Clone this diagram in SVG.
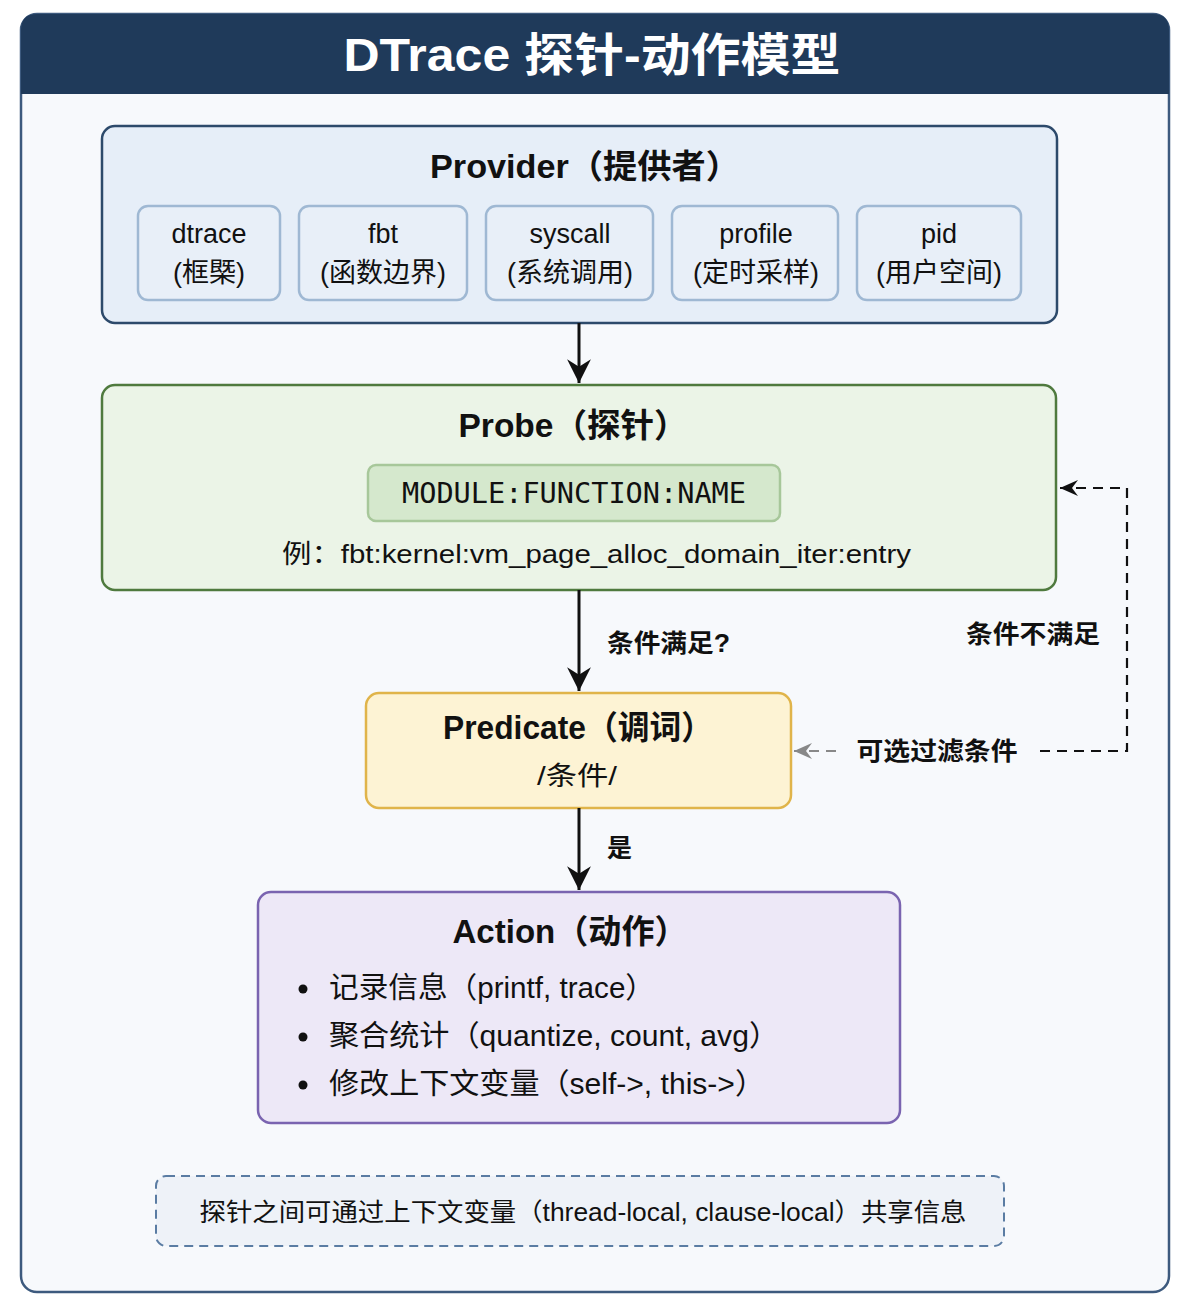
<svg xmlns="http://www.w3.org/2000/svg" width="1198" height="1313" viewBox="0 0 1198 1313">
<defs>
<style>
.t{font-family:"Liberation Sans","Noto Sans CJK SC",Arial,sans-serif;fill:#111;}
.b{font-weight:bold;}
.title{font-family:"Liberation Sans","Noto Sans CJK SC",sans-serif;font-weight:bold;font-size:46px;fill:#fff;}
.h{font-size:33px;font-weight:bold;}
.s{font-size:27px;}
.lbl{font-size:25px;font-weight:bold;}
.mono{font-family:"DejaVu Sans Mono","Liberation Mono",monospace;font-size:28px;fill:#111;}
.sub{fill:#e8eff8;stroke:#9fb8d3;stroke-width:2.5;}
.conn{stroke:#111;stroke-width:3;fill:none;}
.dash{stroke:#111;stroke-width:2.2;fill:none;stroke-dasharray:10 7;}
</style>
<marker id="ah" markerUnits="userSpaceOnUse" markerWidth="26" markerHeight="26" viewBox="-22 -12 24 24" refX="0" refY="0" orient="auto">
<path d="M0,0 L-22,-11 L-15,0 L-22,11 Z" fill="#111"/>
</marker>
<marker id="ahs" markerUnits="userSpaceOnUse" markerWidth="20" markerHeight="20" viewBox="-18 -10 20 20" refX="0" refY="0" orient="auto">
<path d="M0,0 L-18,-8 L-12,0 L-18,8 Z" fill="#111"/>
</marker>
<marker id="ahg" markerUnits="userSpaceOnUse" markerWidth="20" markerHeight="20" viewBox="-18 -10 20 20" refX="0" refY="0" orient="auto">
<path d="M0,0 L-18,-8 L-12,0 L-18,8 Z" fill="#888"/>
</marker>
</defs>

<g id="frame">
<rect x="21" y="14" width="1148" height="1278" rx="16" fill="#f7f9fc" stroke="#3d5a7e" stroke-width="2.5"/>
<path d="M21,94 V30 Q21,14 37,14 H1153 Q1169,14 1169,30 V94 Z" fill="#1f3a5a"/>
<text class="title" x="592" y="71" text-anchor="middle" textLength="497" lengthAdjust="spacingAndGlyphs">DTrace 探针-动作模型</text>
</g>

<g id="provider">
<rect x="102" y="126" width="955" height="197" rx="13" fill="#e6eef8" stroke="#2d4a6b" stroke-width="2.5"/>
<text class="t h" x="585" y="178" text-anchor="middle" textLength="310" lengthAdjust="spacingAndGlyphs">Provider（提供者）</text>
</g>
<g id="p-dtrace">
<rect class="sub" x="138" y="206" width="142" height="94" rx="10"/>
<text class="t s" x="209" y="243" text-anchor="middle">dtrace</text>
<text class="t s" x="209" y="282" text-anchor="middle">(框槩)</text>
</g>
<g id="p-fbt">
<rect class="sub" x="299" y="206" width="168" height="94" rx="10"/>
<text class="t s" x="383" y="243" text-anchor="middle">fbt</text>
<text class="t s" x="383" y="282" text-anchor="middle">(函数边界)</text>
</g>
<g id="p-syscall">
<rect class="sub" x="486" y="206" width="167" height="94" rx="10"/>
<text class="t s" x="570" y="243" text-anchor="middle">syscall</text>
<text class="t s" x="570" y="282" text-anchor="middle">(系统调用)</text>
</g>
<g id="p-profile">
<rect class="sub" x="672" y="206" width="166" height="94" rx="10"/>
<text class="t s" x="756" y="243" text-anchor="middle">profile</text>
<text class="t s" x="756" y="282" text-anchor="middle">(定时采样)</text>
</g>
<g id="p-pid">
<rect class="sub" x="857" y="206" width="164" height="94" rx="10"/>
<text class="t s" x="939" y="243" text-anchor="middle">pid</text>
<text class="t s" x="939" y="282" text-anchor="middle">(用户空间)</text>
</g>

<g id="probe">
<rect x="102" y="385" width="954" height="205" rx="13" fill="#ebf4e7" stroke="#4f7a3e" stroke-width="2.5"/>
<text class="t h" x="573" y="437" text-anchor="middle" textLength="229" lengthAdjust="spacingAndGlyphs">Probe（探针）</text>
<rect x="368" y="465" width="412" height="56" rx="8" fill="#d5e8cd" stroke="#a7c79a" stroke-width="2.5"/>
<text class="mono" x="574" y="503" text-anchor="middle" textLength="344" lengthAdjust="spacingAndGlyphs">MODULE:FUNCTION:NAME</text>
<text class="t" x="282" y="563" font-size="26" textLength="629" lengthAdjust="spacingAndGlyphs">例：fbt:kernel:vm_page_alloc_domain_iter:entry</text>
</g>

<g id="predicate">
<rect x="366" y="693" width="425" height="115" rx="13" fill="#fdf3d4" stroke="#e0b44a" stroke-width="2.5"/>
<text class="t h" x="578" y="739" text-anchor="middle" textLength="270" lengthAdjust="spacingAndGlyphs">Predicate（调词）</text>
<text class="t" x="577" y="785" text-anchor="middle" font-size="26" textLength="80" lengthAdjust="spacingAndGlyphs">/条件/</text>
</g>

<g id="action">
<rect x="258" y="892" width="642" height="231" rx="13" fill="#ede8f7" stroke="#7a64b0" stroke-width="2.5"/>
<text class="t h" x="570" y="943" text-anchor="middle" textLength="235" lengthAdjust="spacingAndGlyphs">Action（动作）</text>
<circle cx="303" cy="989" r="4.5" fill="#111"/>
<circle cx="303" cy="1037" r="4.5" fill="#111"/>
<circle cx="303" cy="1085" r="4.5" fill="#111"/>
<text class="t" x="329" y="998" font-size="29" textLength="326" lengthAdjust="spacingAndGlyphs">记录信息（printf, trace）</text>
<text class="t" x="329" y="1046" font-size="29" textLength="450" lengthAdjust="spacingAndGlyphs">聚合统计（quantize, count, avg）</text>
<text class="t" x="329" y="1094" font-size="29" textLength="436" lengthAdjust="spacingAndGlyphs">修改上下文变量（self-&gt;, this-&gt;）</text>
</g>

<g id="note">
<rect x="156" y="1176" width="848" height="70" rx="10" fill="#eef2f8" stroke="#5a7ca3" stroke-width="2" stroke-dasharray="9 6"/>
<text class="t" x="583" y="1221" text-anchor="middle" font-size="25" textLength="767" lengthAdjust="spacingAndGlyphs">探针之间可通过上下文变量（thread-local, clause-local）共享信息</text>
</g>

<g id="connectors">
<line class="conn" x1="579" y1="323" x2="579" y2="383" marker-end="url(#ah)"/>
<line class="conn" x1="579" y1="590" x2="579" y2="691" marker-end="url(#ah)"/>
<line class="conn" x1="579" y1="808" x2="579" y2="890" marker-end="url(#ah)"/>
<text class="t lbl" x="607" y="652" textLength="123" lengthAdjust="spacingAndGlyphs">条件满足?</text>
<text class="t lbl" x="607" y="857">是</text>
<path class="dash" d="M1040,751 H1127 V488 H1060" marker-end="url(#ahs)"/>
<line x1="836" y1="751" x2="794" y2="751" stroke="#888" stroke-width="2.2" stroke-dasharray="10 7" marker-end="url(#ahg)"/>
<text class="t lbl" x="1033" y="643" text-anchor="middle" textLength="134" lengthAdjust="spacingAndGlyphs">条件不满足</text>
<text class="t lbl" x="937" y="760" text-anchor="middle" textLength="161" lengthAdjust="spacingAndGlyphs">可选过滤条件</text>
</g>
</svg>
